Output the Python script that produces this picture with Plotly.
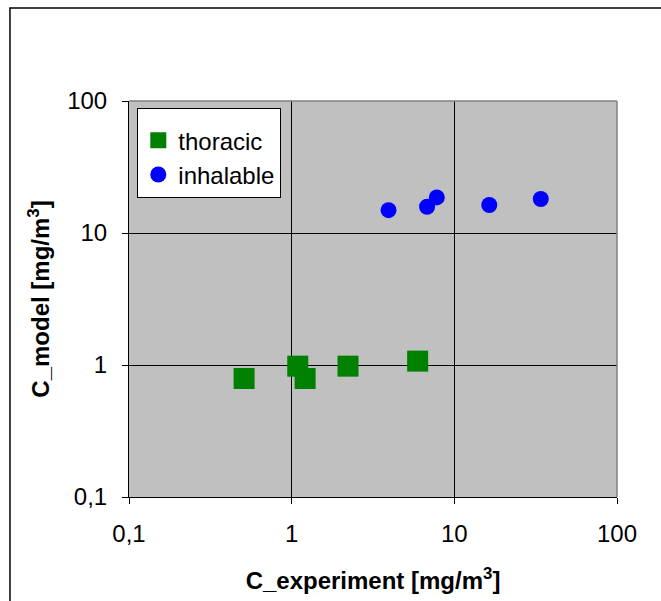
import plotly.graph_objects as go

# Measured concentrations (experiment vs. model), mg/m3
thoracic_exp = [0.51, 1.09, 1.21, 2.22, 5.95]
thoracic_model = [0.79, 0.98, 0.79, 0.98, 1.07]

inhalable_exp = [3.94, 6.8, 7.8, 16.4, 34.0]
inhalable_model = [14.9, 15.8, 18.6, 16.3, 18.1]

tick_vals = [0.1, 1, 10, 100]
tick_text = ["0,1", "1", "10", "100"]

FONT = "Liberation Sans, Arial, sans-serif"

fig = go.Figure()
fig.add_trace(go.Scatter(
    x=thoracic_exp, y=thoracic_model, mode="markers", name="thoracic",
    marker=dict(symbol="square", size=21, color="#008000", line=dict(width=0)),
))
fig.add_trace(go.Scatter(
    x=inhalable_exp, y=inhalable_model, mode="markers", name="inhalable",
    marker=dict(symbol="circle", size=16, color="#0000FF", line=dict(width=0)),
))

axis_common = dict(
    type="log", range=[-1, 2], tickvals=tick_vals, ticktext=tick_text,
    showgrid=True, gridcolor="black", gridwidth=1,
    showline=True, linecolor="black", linewidth=1,
    ticks="outside", ticklen=6, tickcolor="black",
    tickfont=dict(family=FONT, size=24, color="black"),
    zeroline=False, mirror=False,
)

fig.update_layout(
    width=661, height=601,
    margin=dict(l=129, r=44, t=101, b=104),
    paper_bgcolor="white", plot_bgcolor="#C0C0C0",
    font=dict(family=FONT, color="black"),
    xaxis=dict(axis_common, ticklabelstandoff=9, title=dict(
        text="<b>C_experiment [mg/m<sup>3</sup>]</b>",
        font=dict(family=FONT, size=24), standoff=26)),
    yaxis=dict(axis_common, ticklabelstandoff=10, title=dict(
        text="<b>C_model [mg/m<sup>3</sup>]</b>",
        font=dict(family=FONT, size=24), standoff=10)),
    legend=dict(
        x=0.017, y=0.982, xanchor="left", yanchor="top",
        bgcolor="white", bordercolor="black", borderwidth=1,
        font=dict(family=FONT, size=24, color="black"),
        title=dict(text=" ", font=dict(size=7)),
        itemwidth=30,
    ),
    showlegend=True,
    shapes=[
        # grey frame on top/right of plotting area
        dict(type="line", xref="paper", yref="paper", x0=0, x1=1, y0=1, y1=1,
             line=dict(color="#808080", width=1.5), layer="above"),
        dict(type="line", xref="paper", yref="paper", x0=1, x1=1, y0=0, y1=1,
             line=dict(color="#808080", width=1.5), layer="above"),
        # outer chart border
        dict(type="rect", xref="paper", yref="paper",
             x0=-0.2439, x1=1.12, y0=-0.3, y1=1.2348,
             line=dict(color="black", width=1.5), layer="below"),
    ],
)

fig.write_html("out.html")
